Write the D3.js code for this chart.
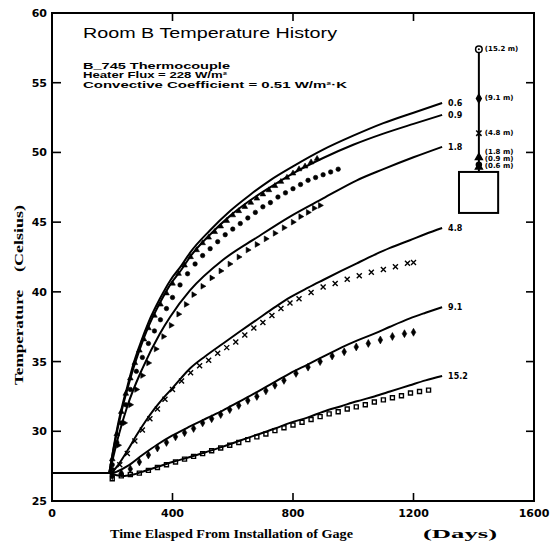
<!DOCTYPE html>
<html><head><meta charset="utf-8">
<script src="https://cdn.jsdelivr.net/npm/d3@7"></script>
<style>body{margin:0;background:#fff}svg{display:block}text{font-family:"DejaVu Sans",sans-serif;fill:#000}</style>
</head><body><svg id="c" width="554" height="544"></svg>
<script>
// ---- data ----
const gauges = ["0.6","0.9","1.8","4.8","9.1","15.2"];
const xTicks = [0,400,800,1200,1600];
const yTicks = [25,30,35,40,45,50,55,60];
const baseline = [[0,27],[190,27]];
// model (solid) curves: [day, temperature]
const model06 = [[190,27],[205,28.9],[220,30.6],[235,32.0],[250,33.2],[270,34.8],[290,36.1],[320,37.8],[358,39.5],[392,40.8],[430,41.9],[458,42.8],[524,44.4],[591,45.8],[657,46.95],[724,48.0],[800,49.0],[900,50.2],[1000,51.2],[1100,52.1],[1200,52.85],[1295,53.55]];
const model09 = [[190,27],[205,28.8],[220,30.4],[235,31.8],[250,33.0],[270,34.5],[290,35.8],[320,37.5],[358,39.2],[392,40.5],[430,41.6],[458,42.5],[524,44.1],[591,45.45],[657,46.55],[724,47.5],[800,48.5],[900,49.6],[1000,50.55],[1100,51.35],[1200,52.05],[1295,52.69]];
const model18 = [[190,27],[205,28.3],[220,29.6],[250,31.8],[300,34.5],[358,37.0],[392,38.2],[458,40.1],[568,42.3],[680,43.9],[790,45.4],[900,46.7],[1012,48.0],[1100,48.8],[1200,49.65],[1295,50.4]];
const model48 = [[190,27],[200,27.1],[220,27.6],[250,28.6],[280,29.7],[310,30.7],[340,31.6],[370,32.4],[400,33.1],[430,33.85],[458,34.5],[510,35.4],[568,36.3],[620,37.1],[680,38.0],[740,38.9],[790,39.6],[850,40.3],[900,40.85],[960,41.5],[1012,42.05],[1070,42.65],[1122,43.15],[1188,43.7],[1240,44.15],[1295,44.58]];
const model91 = [[190,27],[200,27.0],[220,27.15],[250,27.5],[300,28.3],[350,29.05],[400,29.7],[458,30.35],[510,30.9],[568,31.5],[620,32.1],[680,32.8],[740,33.55],[790,34.15],[850,34.8],[900,35.35],[960,36.0],[1012,36.5],[1070,37.0],[1122,37.5],[1188,38.1],[1240,38.5],[1295,38.9]];
const model152 = [[190,27],[215,26.85],[240,26.8],[270,26.9],[300,27.1],[350,27.45],[400,27.8],[458,28.15],[510,28.5],[568,28.9],[620,29.3],[680,29.75],[740,30.2],[790,30.6],[850,31.0],[900,31.4],[960,31.8],[1012,32.15],[1070,32.5],[1122,32.85],[1188,33.3],[1240,33.65],[1295,33.97]];
// measured (marker) data: [day, temperature]
const meas06 = [[200,28.0],[215,29.8],[230,31.4],[245,32.7],[260,33.8],[275,34.9],[290,35.8],[305,36.6],[320,37.4],[340,38.3],[360,39.1],[380,39.9],[400,40.6],[420,41.3],[440,41.9],[460,42.5],[480,43.0],[500,43.5],[520,43.9],[540,44.3],[560,44.7],[580,45.1],[600,45.5],[620,45.8],[640,46.1],[660,46.4],[680,46.7],[700,47.0],[720,47.3],[740,47.6],[760,47.9],[780,48.2],[800,48.5],[820,48.8],[840,49.0],[860,49.3],[880,49.55]];
const meas09 = [[200,27.6],[215,29.2],[230,30.6],[245,31.9],[260,33.0],[280,34.3],[300,35.3],[320,36.3],[340,37.2],[360,38.0],[380,38.8],[400,39.6],[425,40.5],[450,41.3],[475,42.0],[500,42.6],[525,43.1],[550,43.6],[575,44.1],[600,44.5],[625,44.9],[650,45.3],[675,45.7],[700,46.1],[725,46.4],[750,46.8],[775,47.1],[800,47.4],[825,47.7],[850,48.0],[875,48.2],[900,48.4],[925,48.6],[950,48.8]];
const meas18 = [[200,27.3],[220,29.0],[240,30.6],[260,31.9],[280,33.0],[300,34.0],[320,34.9],[345,35.9],[370,36.8],[395,37.6],[420,38.4],[445,39.1],[470,39.8],[500,40.4],[530,41.0],[560,41.5],[590,42.0],[620,42.5],[650,43.0],[680,43.4],[710,43.8],[740,44.2],[770,44.6],[800,45],[825,45.4],[850,45.7],[870,46],[890,46.2]];
const meas48 = [[200,27],[225,27.6],[250,28.4],[275,29.3],[300,30.1],[325,30.9],[350,31.6],[375,32.3],[400,33],[430,33.6],[460,34.2],[490,34.7],[520,35.1],[550,35.6],[580,36],[610,36.4],[640,36.9],[670,37.4],[700,37.8],[730,38.3],[760,38.8],[790,39.2],[820,39.5],[860,39.95],[900,40.35],[940,40.6],[980,40.9],[1020,41.15],[1060,41.4],[1100,41.6],[1140,41.8],[1180,42.05],[1200,42.1]];
const meas91 = [[200,26.8],[230,27],[260,27.3],[290,27.8],[320,28.3],[350,28.8],[380,29.2],[410,29.6],[440,29.9],[470,30.2],[500,30.6],[530,30.9],[560,31.2],[590,31.55],[620,31.85],[650,32.2],[680,32.5],[710,32.9],[740,33.3],[770,33.65],[810,34.15],[850,34.6],[890,35],[930,35.4],[970,35.7],[1010,36.05],[1050,36.3],[1090,36.55],[1130,36.8],[1170,37],[1200,37.1]];
const meas152 = [[200,26.6],[230,26.8],[260,26.9],[290,27],[320,27.2],[350,27.4],[380,27.6],[410,27.8],[440,28],[470,28.2],[500,28.4],[530,28.6],[560,28.8],[590,29],[620,29.2],[650,29.4],[680,29.6],[710,29.8],[740,30.05],[770,30.25],[800,30.45],[830,30.65],[860,30.85],[890,31.05],[920,31.25],[950,31.4],[980,31.6],[1010,31.75],[1040,31.9],[1070,32.1],[1100,32.25],[1130,32.4],[1160,32.55],[1190,32.75],[1220,32.85],[1250,32.95]];
const gaugeDist = [0.6,0.9,1.8,4.8,9.1,15.2];
const gaugeLabels = ["(0.6 m)","(0.9 m)","(1.8 m)","(4.8 m)","(9.1 m)","(15.2 m)"];

const models = [model06,model09,model18,model48,model91,model152];
const meas = [meas06,meas09,meas18,meas48,meas91,meas152];
const symbols = [d3.symbolTriangle,d3.symbolCircle,d3.symbolTriangle,d3.symbolX,d3.symbolDiamond,d3.symbolSquare];
const symSize = [14,16,14,18,18,16];
const symFill = [true,true,true,false,true,false];
const symRot = [0,0,90,0,0,0];

// ---- layout ----
const svg = d3.select("#c");
const x = d3.scaleLinear([0,1600],[52,534]);
const y = d3.scaleLinear([25,60],[501,13]);

// frame
svg.append("rect").attr("x",x(0)).attr("y",y(60)).attr("width",x(1600)-x(0)).attr("height",y(25)-y(60))
  .attr("fill","none").attr("stroke","#000").attr("stroke-width",2);

// inward ticks
const innerX = xTicks.slice(1,-1), innerY = yTicks.slice(1,-1);
const tk = svg.append("g").attr("stroke","#000").attr("stroke-width",1.6);
innerX.forEach(v=>{
  tk.append("line").attr("x1",x(v)).attr("x2",x(v)).attr("y1",y(25)).attr("y2",y(25)-8);
  tk.append("line").attr("x1",x(v)).attr("x2",x(v)).attr("y1",y(60)).attr("y2",y(60)+8);
});
innerY.forEach(v=>{
  tk.append("line").attr("x1",x(0)).attr("x2",x(0)+9).attr("y1",y(v)).attr("y2",y(v));
  tk.append("line").attr("x1",x(1600)).attr("x2",x(1600)-8).attr("y1",y(v)).attr("y2",y(v));
});
// tick labels
svg.append("g").selectAll("text").data(xTicks).join("text")
  .attr("x",d=>x(d)).attr("y",y(25)+16).attr("text-anchor","middle")
  .attr("font-size",11).attr("font-weight","bold").text(d=>d);
svg.append("g").selectAll("text").data(yTicks).join("text")
  .attr("x",x(0)-5).attr("y",d=>y(d)).attr("dy","0.36em").attr("text-anchor","end")
  .attr("font-size",11).attr("font-weight","bold").text(d=>d);

// curves
const line = d3.line().x(d=>x(d[0])).y(d=>y(d[1])).curve(d3.curveMonotoneX);
svg.append("path").attr("d",line(baseline)).attr("fill","none").attr("stroke","#000").attr("stroke-width",2);
models.forEach(m=>{
  svg.append("path").attr("d",line(m)).attr("fill","none").attr("stroke","#000").attr("stroke-width",2);
});

// measured markers
meas.forEach((s,i)=>{
  const sym = d3.symbol().type(symbols[i]).size(symSize[i]);
  svg.append("g").selectAll("path").data(s).join("path")
    .attr("transform",d=>`translate(${x(d[0])},${y(d[1])}) rotate(${symRot[i]})`)
    .attr("d",sym)
    .attr("fill",symFill[i]?"#000":"none")
    .attr("stroke","#000").attr("stroke-width",symFill[i]?0.6:1.4);
});

// curve labels
models.forEach((m,i)=>{
  const last = m[m.length-1];
  svg.append("text").attr("x",x(last[0])+6).attr("y",y(last[1])).attr("dy","0.35em")
    .attr("font-size",8).attr("font-weight","bold").text(gauges[i]);
});

// heater diagram
const hx = x(1417);
const dist = d3.scaleLinear([0,15.2],[y(48.6),y(57.4)]);
svg.append("line").attr("x1",hx).attr("x2",hx).attr("y1",dist(0)).attr("y2",dist(15.2))
  .attr("stroke","#000").attr("stroke-width",2);
svg.append("rect").attr("x",x(1351)).attr("y",y(48.6)).attr("width",x(1481)-x(1351)).attr("height",y(45.66)-y(48.6))
  .attr("fill","#fff").attr("stroke","#000").attr("stroke-width",2);
const diagSym = [d3.symbolTriangle,d3.symbolCircle,d3.symbolTriangle,d3.symbolX,d3.symbolDiamond,d3.symbolCircle];
const labY = [166,159,152,133,98,49];
gaugeDist.forEach((g,i)=>{
  const sym = d3.symbol().type(diagSym[i]).size(i===5?34:20);
  svg.append("path").attr("transform",`translate(${hx},${dist(g)})`).attr("d",sym)
    .attr("fill",(i===5)?"#fff":"#000").attr("stroke","#000").attr("stroke-width",1.5);
  svg.append("text").attr("x",hx+6).attr("y",labY[i]).attr("dy","0.35em")
    .attr("font-size",7).attr("font-weight","bold").text(gaugeLabels[i]);
});
svg.append("circle").attr("cx",hx).attr("cy",dist(15.2)).attr("r",1).attr("fill","#000");

// titles
svg.append("text").attr("x",83).attr("y",38).attr("font-size",15).attr("textLength",254).attr("lengthAdjust","spacingAndGlyphs")
  .style("font-family","Liberation Sans").text("Room B Temperature History");
const sub = ["B_745 Thermocouple","Heater Flux = 228 W/m²","Convective Coefficient = 0.51 W/m²·K"];
const subW = [147,144,264];
sub.forEach((t,i)=>{
  svg.append("text").attr("x",83).attr("y",68.5+i*9.5).attr("font-size",8.5).attr("font-weight","bold")
    .attr("textLength",subW[i]).attr("lengthAdjust","spacingAndGlyphs").style("font-family","Liberation Sans").text(t);
});
svg.append("text").attr("x",110).attr("y",538).attr("font-size",12).attr("font-weight","bold")
  .attr("textLength",243).attr("lengthAdjust","spacingAndGlyphs").style("font-family","Liberation Serif")
  .text("Time Elasped From Installation of Gage");
svg.append("text").attr("x",423).attr("y",538).attr("font-size",12).attr("font-weight","bold")
  .attr("textLength",74).attr("lengthAdjust","spacingAndGlyphs").style("font-family","Liberation Serif").text("(Days)");
svg.append("text").attr("transform","translate(23,385) rotate(-90)").attr("font-size",12).attr("font-weight","bold")
  .attr("textLength",95).attr("lengthAdjust","spacingAndGlyphs").style("font-family","Liberation Serif").text("Temperature");
svg.append("text").attr("transform","translate(23,272) rotate(-90)").attr("font-size",12).attr("font-weight","bold")
  .attr("textLength",67).attr("lengthAdjust","spacingAndGlyphs").style("font-family","Liberation Serif").text("(Celsius)");
</script></body></html>
